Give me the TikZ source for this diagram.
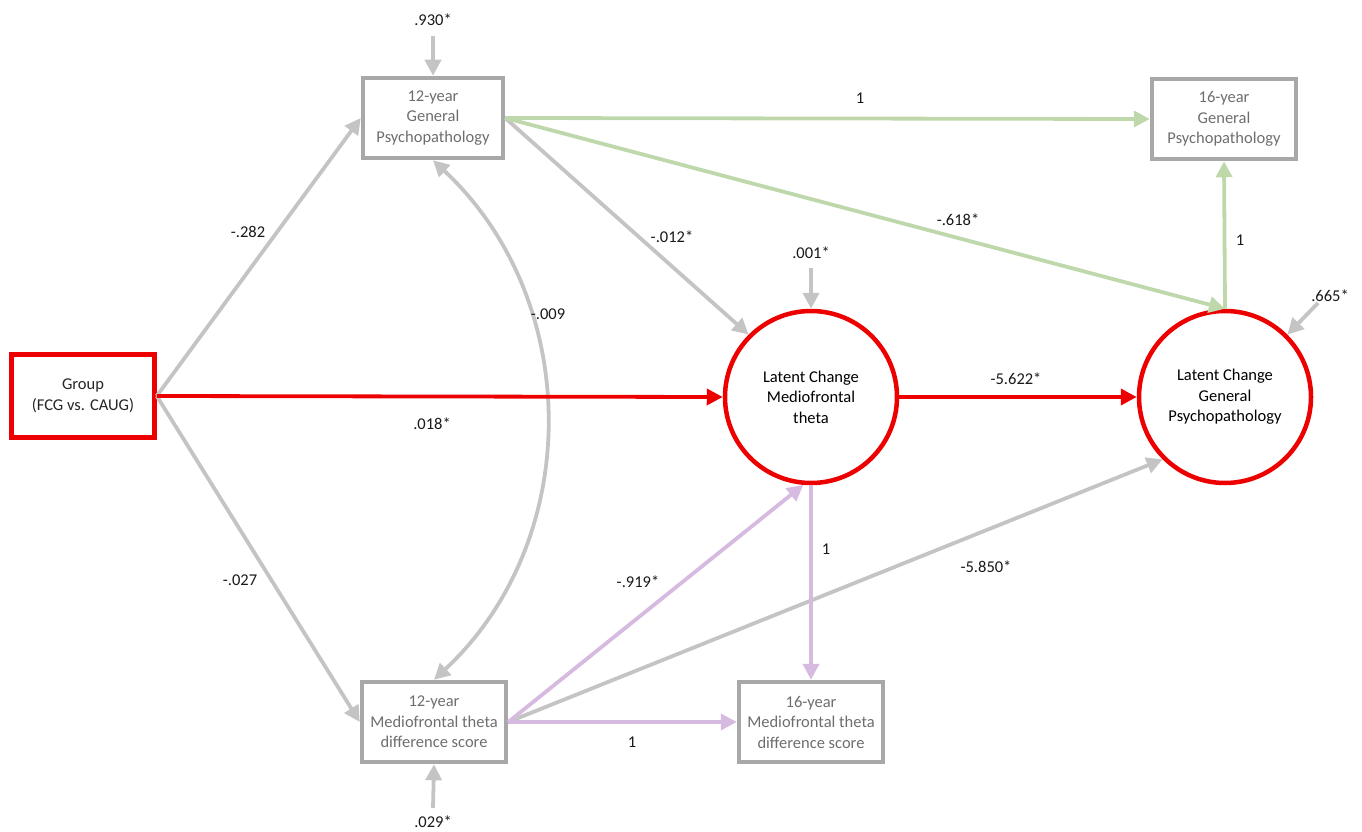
\documentclass[tikz,border=0pt]{standalone}
\usepackage{fontspec}
\setmainfont{Carlito}
\usetikzlibrary{arrows.meta}

\definecolor{pathgray}{RGB}{196,196,196}
\definecolor{boxgray}{RGB}{168,168,168}
\definecolor{txtgray}{RGB}{110,110,110}
\definecolor{pathred}{RGB}{236,0,0}
\definecolor{pathgreen}{RGB}{190,216,172}
\definecolor{pathpurple}{RGB}{214,186,224}

\tikzset{
  obsbox/.style={draw=boxgray, line width=4.5pt, fill=white, text=txtgray,
    minimum width=140pt, minimum height=80pt, align=center, inner sep=2pt},
  grpbox/.style={draw=pathred, line width=4.5pt, fill=white, text=black!85,
    minimum width=143pt, minimum height=83pt, align=center},
  latent/.style={circle, draw=pathred, line width=4.5pt, fill=white, text=black,
    minimum size=172pt, align=center, inner sep=0pt},
  path/.style={line width=3.8pt, -{Triangle[length=16pt,width=16pt]}},
  lbl/.style={text=black!90, inner sep=1pt}
}

\begin{document}
\begin{tikzpicture}[x=1pt, y=-1pt, font=\fontsize{16.5}{20.5}\selectfont, line cap=butt]
  \useasboundingbox (0,0) rectangle (1362,832);

  % nodes
  \node[grpbox] (grp) at (83,396) {Group\\(FCG vs. CAUG)};
  \node[obsbox] (gp12) at (433,118) {12-year\\General\\Psychopathology};
  \node[obsbox, minimum width=144pt] (gp16) at (1224,119) {16-year\\General\\Psychopathology};
  \node[obsbox, minimum width=144pt] (mf12) at (434,722) {12-year\\Mediofrontal theta\\difference score};
  \node[obsbox, minimum width=144pt] (mf16) at (811,722) {16-year\\Mediofrontal theta\\difference score};
  \node[latent] (lmf) at (811,397) {Latent Change\\Mediofrontal\\theta};
  \node[latent] (lgp) at (1225,397) {Latent Change\\General\\Psychopathology};

  % residual tails
  \coordinate (e1) at (433,36);
  \coordinate (e2) at (433,808);
  \coordinate (e3) at (811,268);
  \coordinate (e4) at (1318,303);

  % residuals
  \draw[path, pathgray] (e1) -- (gp12.north);
  \draw[path, pathgray] (e2) -- (mf12.south);
  \draw[path, pathgray] (e3) -- (lmf.north);
  \draw[path, pathgray] (e4) -- (lgp.45);

  % gray paths
  \draw[path, pathgray] (grp.east) -- (gp12.west);
  \draw[path, pathgray] (grp.east) -- (mf12.west);
  \draw[path, pathgray] (gp12.east) -- (lmf.135);
  \draw[path, pathgray] (mf12.east) -- (lgp.225);
  \draw[line width=3.8pt, pathgray, {Triangle[length=16pt,width=16pt]}-{Triangle[length=16pt,width=16pt]}]
    (gp12.south) .. controls +(150,140) and +(150,-140) .. (mf12.north);

  % green paths
  \draw[path, pathgreen] (gp12.east) -- (gp16.west);
  \draw[path, pathgreen] (gp12.east) -- (lgp.north);
  \draw[path, pathgreen] (lgp.north) -- (gp16.south);

  % purple paths
  \draw[path, pathpurple] (mf12.east) -- (lmf.265);
  \draw[path, pathpurple] (mf12.east) -- (mf16.west);
  \draw[path, pathpurple] (lmf.south) -- (mf16.north);

  % red paths
  \draw[path, pathred] (grp.east) -- (lmf.west);
  \draw[path, pathred] (lmf.east) -- (lgp.west);

  % labels
  \node[lbl] (l1) at (433,20) {.930*};
  \node[lbl] (l2) at (433,822) {.029*};
  \node[lbl] (l3) at (811,253) {.001*};
  \node[lbl] (l4) at (1330,296) {.665*};
  \node[lbl] (l5) at (860,98) {1};
  \node[lbl] (l6) at (958,220) {-.618*};
  \node[lbl] (l7) at (1240,240) {1};
  \node[lbl] (l8) at (672,237) {-.012*};
  \node[lbl] (l9) at (248,232) {-.282};
  \node[lbl] (l10) at (548,314) {-.009};
  \node[lbl] (l11) at (432,424) {.018*};
  \node[lbl] (l12) at (1016,379) {-5.622*};
  \node[lbl] (l13) at (240,580) {-.027};
  \node[lbl] (l14) at (638,582) {-.919*};
  \node[lbl] (l15) at (826,549) {1};
  \node[lbl] (l16) at (986,567) {-5.850*};
  \node[lbl] (l17) at (632,742) {1};
\end{tikzpicture}
\end{document}
